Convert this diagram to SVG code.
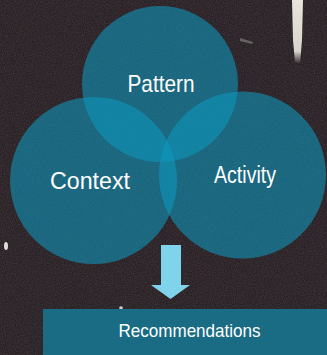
<svg xmlns="http://www.w3.org/2000/svg" width="327" height="355" viewBox="0 0 327 355">
  <defs>
    <filter id="noise" x="0" y="0" width="100%" height="100%">
      <feTurbulence type="fractalNoise" baseFrequency="0.9" numOctaves="2" seed="3" result="n"/>
      <feColorMatrix type="matrix" values="0 0 0 0 0.55  0 0 0 0 0.5  0 0 0 0 0.5  0 0 0 0.5 -0.12"/>
    </filter>
    <linearGradient id="streak" x1="0" y1="0" x2="0" y2="1">
      <stop offset="0" stop-color="#e8e6dc"/>
      <stop offset="0.8" stop-color="#d8d6cc"/>
      <stop offset="1" stop-color="#d8d6cc" stop-opacity="0"/>
    </linearGradient>
    <style>
      .circle { fill: #0e98bd; fill-opacity: 0.58; }
      .label { font-family: "Liberation Sans", Arial, sans-serif; fill: #ffffff; text-anchor: middle; }
    </style>
  </defs>

  <g id="background">
    <rect width="327" height="355" fill="#261e22"/>
    <rect width="327" height="355" filter="url(#noise)" opacity="0.5"/>
    <path d="M292,0 L303,0 L302,40 L300,64 L295,62 L293,40 Z" fill="url(#streak)"/>
    <path d="M240,38 L253,42 L252,44 L240,41 Z" fill="#8a8a86" opacity="0.6"/>
    <ellipse cx="6" cy="246" rx="2" ry="4" fill="#dcdcd6"/>
    <circle cx="121" cy="308" r="1.8" fill="#d0d0cc"/>
  </g>

  <g id="node-pattern">
    <circle class="circle" cx="160" cy="84" r="78"/>
    <text class="label" x="161" y="91.5" font-size="24" textLength="67" lengthAdjust="spacingAndGlyphs">Pattern</text>
  </g>

  <g id="node-context">
    <circle class="circle" cx="93.5" cy="180.5" r="83.5"/>
    <text class="label" x="90" y="188.5" font-size="24.5" textLength="80" lengthAdjust="spacingAndGlyphs">Context</text>
  </g>

  <g id="node-activity">
    <circle class="circle" cx="242.5" cy="175" r="83.5"/>
    <text class="label" x="245" y="182.5" font-size="23" textLength="62" lengthAdjust="spacingAndGlyphs">Activity</text>
  </g>

  <g id="connectors">
    <path d="M161,245 L181,245 L181,285 L190,285 L170.5,299 L151,285 L161,285 Z" fill="#7fd3ea"/>
  </g>

  <g id="node-recommendations">
    <rect x="43" y="309" width="284" height="46" fill="#1a6c84"/>
    <text class="label" x="189.5" y="336.5" font-size="18.5" textLength="142" lengthAdjust="spacingAndGlyphs">Recommendations</text>
  </g>
</svg>
